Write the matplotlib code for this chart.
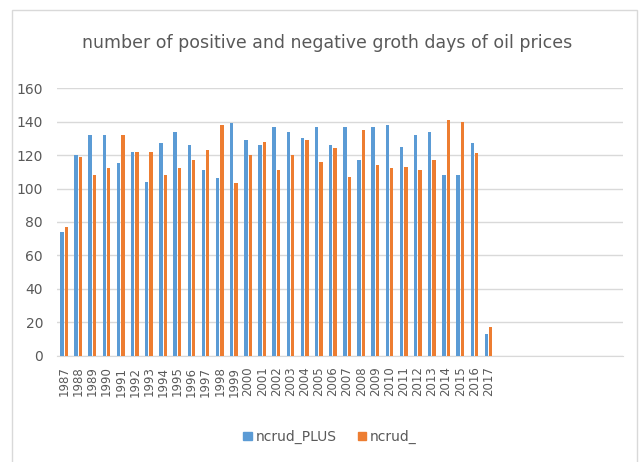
import numpy as np
import matplotlib
matplotlib.use("Agg")
import matplotlib.pyplot as plt
from matplotlib.patches import Rectangle, Patch

# Datos
years = ['1987', '1988', '1989', '1990', '1991', '1992', '1993', '1994', '1995', '1996',
         '1997', '1998', '1999', '2000', '2001', '2002', '2003', '2004', '2005', '2006',
         '2007', '2008', '2009', '2010', '2011', '2012', '2013', '2014', '2015', '2016',
         '2017']
ncrud_plus = [74, 120, 132, 132, 115, 122, 104, 127, 134, 126,
              111, 106, 139, 129, 126, 137, 134, 130, 137, 126,
              137, 117, 137, 138, 125, 132, 134, 108, 108, 127,
              13]
ncrud_ = [77, 119, 108, 112, 132, 122, 122, 108, 112, 117,
          123, 138, 103, 120, 128, 111, 120, 129, 116, 124,
          107, 135, 114, 112, 113, 111, 117, 141, 140, 121,
          17]
blank_slots = 9  # categorías vacías a la derecha
y_ticks = [0, 20, 40, 60, 80, 100, 120, 140, 160]

blue = '#5B9BD5'
orange = '#ED7D31'
grid = '#D9D9D9'
txt = '#595959'
plt.rcParams['font.family'] = ['DejaVu Sans']

fig = plt.figure(figsize=(6.4, 4.62), dpi=100)
ax = fig.add_axes([57 / 640, 1 - 355.5 / 462, 566 / 640, (355.5 - 88.3) / 462])

x = np.arange(len(years))
w = 0.24
ax.bar(x - 0.155, ncrud_plus, w, color=blue, zorder=3)
ax.bar(x + 0.155, ncrud_, w, color=orange, zorder=3)

ax.set_xlim(-0.5, len(years) + blank_slots - 0.5)
ax.set_ylim(0, 160)
ax.set_yticks(y_ticks)
ax.set_yticklabels([str(v) for v in y_ticks], fontsize=10, color=txt)
ax.set_xticks(x)
ax.set_xticklabels(years, rotation=90, fontsize=8.5, color=txt)
ax.tick_params(axis='both', length=0)
ax.tick_params(axis='y', pad=10)
ax.tick_params(axis='x', pad=8)
ax.grid(axis='y', color=grid, lw=1, zorder=0)
for s in ['top', 'right', 'left']:
    ax.spines[s].set_visible(False)
ax.spines['bottom'].set_color(grid)

# Título y marco
fig.text(327 / 640, 1 - 43 / 462, 'number of positive and negative groth days of oil prices',
         ha='center', va='center', fontsize=12.5, color=txt)
fig.add_artist(Rectangle((12 / 640, -0.05), (637 - 12) / 640, 1 - 10 / 462 + 0.05,
                         transform=fig.transFigure, fill=False, edgecolor=grid, lw=1))

handles = [Patch(color=blue, label='ncrud_PLUS'), Patch(color=orange, label='ncrud_')]
fig.legend(handles=handles, loc='center', bbox_to_anchor=(330 / 640, 1 - 437 / 462),
           ncol=2, frameon=False, fontsize=10, labelcolor=txt,
           handlelength=0.6, handleheight=0.6, handletextpad=0.3, columnspacing=1.5)

fig.savefig('out.png', dpi=100)
